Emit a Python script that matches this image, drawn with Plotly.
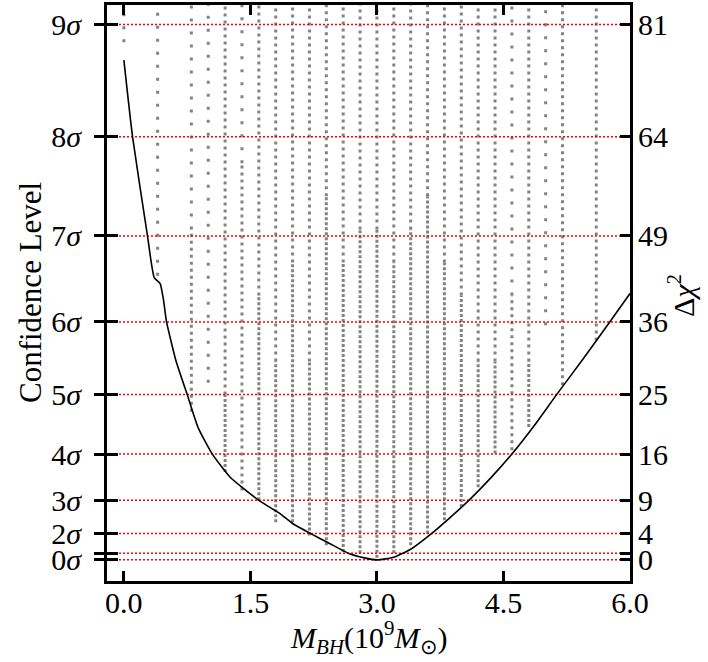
import plotly.graph_objects as go

# ---------------- data ----------------
# Delta chi^2 profile curve
curve_x = [0.0, 0.103, 0.28, 0.36, 0.43, 0.47, 0.506, 0.62, 0.751, 0.88, 1.049, 1.26,
           1.60, 1.85, 2.0, 2.21, 2.45, 2.66, 2.85, 3.0, 3.2, 3.4, 3.65, 3.85, 4.09,
           4.35, 4.60, 4.87, 5.13, 5.45, 5.76, 6.0]
curve_y = [75.6, 64.0, 49.0, 42.7, 41.8, 39.3, 36.0, 30.0, 25.0, 20.0, 16.0, 12.5,
           9.0, 7.0, 5.5, 4.0, 2.4, 1.0, 0.3, 0.0, 0.4, 1.6, 4.0, 6.2, 9.0,
           12.4, 16.0, 20.4, 25.0, 30.5, 36.0, 40.3]

# sampled grid columns (points lie between col_lo and col_hi)
col_x = [0.0, 0.4, 0.8, 1.0, 1.2, 1.4, 1.6, 1.8, 2.0, 2.2, 2.4, 2.6, 2.8, 3.0,
         3.2, 3.4, 3.6, 3.8, 4.0, 4.2, 4.4, 4.6, 4.8, 5.0, 5.2, 5.6]
col_lo = [78.3, 43.0, 22.4, 26.8, 13.3, 10.5, 9.0, 5.7, 5.7, 3.7, 2.2, 1.2, 1.0, 0.3,
          1.0, 2.2, 4.0, 6.0, 8.0, 11.0, 16.1, 16.6, 20.1, 35.5, 26.4, 33.2]
# top of densely populated part
col_dense = [78.3, 43.0, 22.4, 26.8, 25.0, 10.5, 40.0, 30.0, 45.0, 30.0, 55.0, 45.0, 50.0, 50.0,
             45.0, 50.0, 55.0, 45.0, 40.0, 30.0, 30.0, 16.6, 30.0, 35.5, 26.4, 33.2]
# top of medium populated part
col_medium = [78.3, 43.0, 50.0, 26.8, 84.0, 60.0, 84.0, 84.0, 84.0, 84.0, 84.0, 84.0, 84.0, 84.0,
              84.0, 84.0, 84.0, 84.0, 84.0, 84.0, 84.0, 40.0, 84.0, 35.5, 84.0, 84.0]
col_hi = 84.0

# confidence levels
chi2_levels = [0, 1, 4, 9, 16, 25, 36, 49, 64, 81]
left_labels = ["0<i>σ</i>", "", "2<i>σ</i>", "3<i>σ</i>", "4<i>σ</i>", "5<i>σ</i>",
               "6<i>σ</i>", "7<i>σ</i>", "8<i>σ</i>", "9<i>σ</i>"]
right_labels = ["0", "", "4", "9", "16", "25", "36", "49", "64", "81"]

x_ticks = [0.0, 1.5, 3.0, 4.5, 6.0]
x_ticklabels = ["0.0", "1.5", "3.0", "4.5", "6.0"]

X_RANGE = [-0.2, 6.0]
Y_RANGE = [-3.2, 83.95]

# ---------------- figure ----------------
FONT = "Liberation Serif"
GRAY = "#838383"

fig = go.Figure()


def seg_trace(pairs, dash):
    xs, ys = [], []
    for x, a, b in pairs:
        if b > a:
            xs += [x, x, None]
            ys += [a, b, None]
    return go.Scatter(x=xs, y=ys, mode="lines", hoverinfo="skip", showlegend=False,
                      line=dict(color=GRAY, width=3, dash=dash))


dense = [(x, lo, d) for x, lo, d in zip(col_x, col_lo, col_dense)]
medium = [(x, d, m) for x, d, m in zip(col_x, col_dense, col_medium)]
sparse = [(x, m, col_hi) for x, m in zip(col_x, col_medium)]

fig.add_trace(seg_trace(dense, "3px,2px"))
fig.add_trace(seg_trace(medium, "3px,4px"))
fig.add_trace(seg_trace(sparse, "3px,10px"))

# red dotted confidence lines
rx, ry = [], []
for c in chi2_levels:
    rx += [X_RANGE[0], X_RANGE[1], None]
    ry += [c, c, None]
fig.add_trace(go.Scatter(x=rx, y=ry, mode="lines", hoverinfo="skip", showlegend=False,
                         line=dict(color="red", width=1.5, dash="2px,2px")))

# curve
fig.add_trace(go.Scatter(x=curve_x, y=curve_y, mode="lines", showlegend=False,
                         line=dict(color="black", width=1.6, shape="spline", smoothing=0.5)))

# dummy traces to activate extra axes
fig.add_trace(go.Scatter(x=curve_x[:1], y=curve_y[:1], yaxis="y2", mode="markers",
                         marker=dict(opacity=0), hoverinfo="skip", showlegend=False))
fig.add_trace(go.Scatter(x=curve_x[:1], y=curve_y[:1], yaxis="y3", mode="markers",
                         marker=dict(opacity=0), hoverinfo="skip", showlegend=False))

tickfont = dict(family=FONT, size=30, color="black")

fig.update_layout(
    width=708, height=662,
    margin=dict(l=107, r=78, t=5, b=81),
    plot_bgcolor="white", paper_bgcolor="white",
    font=dict(family=FONT, size=30, color="black"),
    xaxis=dict(range=X_RANGE, tickvals=x_ticks, ticktext=x_ticklabels,
               ticks="inside", ticklen=10, tickwidth=2.5, tickcolor="black",
               showline=True, linewidth=3, linecolor="black", mirror="ticks",
               showgrid=False, zeroline=False, tickfont=tickfont,
               ticklabelstandoff=-7, automargin=False),
    yaxis=dict(range=Y_RANGE, tickvals=chi2_levels, ticktext=left_labels,
               ticks="outside", ticklen=10, tickwidth=2.5, tickcolor="black",
               showline=True, linewidth=3, linecolor="black", mirror=True,
               showgrid=False, zeroline=False, tickfont=tickfont,
               ticklabelstandoff=7, automargin=False),
    yaxis2=dict(range=Y_RANGE, overlaying="y", side="right", anchor="x",
                tickvals=chi2_levels, ticktext=right_labels,
                ticks="inside", ticklen=10, tickwidth=2.5, tickcolor="black",
                showline=False, showgrid=False, zeroline=False, tickfont=tickfont,
                ticklabelstandoff=7, automargin=False),
    yaxis3=dict(range=Y_RANGE, overlaying="y", side="left", anchor="x",
                tickvals=chi2_levels, ticks="inside", ticklen=11, tickwidth=2.5,
                tickcolor="black", showticklabels=False, showline=False,
                showgrid=False, zeroline=False, automargin=False),
    annotations=[
        dict(text="Confidence Level", xref="paper", yref="paper",
             x=(30 - 107) / 523, y=0.5, textangle=-90, showarrow=False,
             xanchor="center", yanchor="middle", font=dict(family=FONT, size=31)),
        dict(text="<i>M</i><sub><i>BH</i></sub>(10<sup>9</sup><i>M</i><sub>⊙</sub>)",
             xref="paper", yref="paper", x=0.5, y=(581 - 637) / 576, showarrow=False,
             xanchor="center", yanchor="middle", font=dict(family=FONT, size=30)),
        dict(text="Δ<i>χ</i><sup>2</sup>", xref="paper", yref="paper",
             x=(681 - 107) / 523, y=(581 - 296) / 576, textangle=-90, showarrow=False,
             xanchor="center", yanchor="middle", font=dict(family=FONT, size=30)),
    ],
)

fig.write_html("out.html", config={"displayModeBar": False},
               post_script="document.body.style.margin='0px';document.body.style.padding='0px';")
